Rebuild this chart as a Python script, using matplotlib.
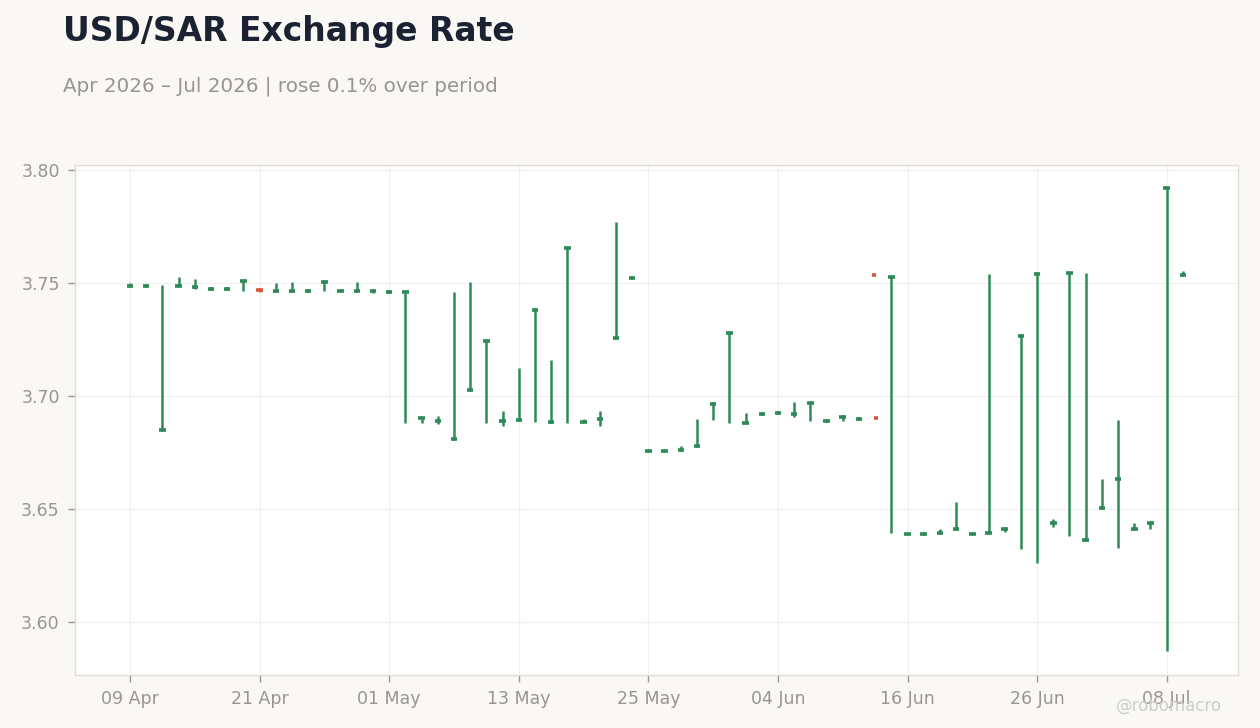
import matplotlib
matplotlib.use("Agg")
import numpy as np
from matplotlib import pyplot as plt


# ─────────────────────────────────────────────────────────────────
# DATA  (daily USD/SAR, business days)
# ─────────────────────────────────────────────────────────────────

DATES = [
    "09 Apr", "10 Apr", "13 Apr", "14 Apr", "15 Apr", "16 Apr", "17 Apr", "20 Apr",
    "21 Apr", "22 Apr", "23 Apr", "24 Apr", "27 Apr", "28 Apr", "29 Apr", "30 Apr",
    "01 May", "04 May", "05 May", "06 May", "07 May", "08 May", "11 May", "12 May",
    "13 May", "14 May", "15 May", "18 May", "19 May", "20 May", "21 May", "22 May",
    "25 May", "26 May", "27 May", "28 May", "29 May", "01 Jun", "02 Jun", "03 Jun",
    "04 Jun", "05 Jun", "08 Jun", "09 Jun", "10 Jun", "11 Jun", "12 Jun", "15 Jun",
    "16 Jun", "17 Jun", "18 Jun", "19 Jun", "22 Jun", "23 Jun", "24 Jun", "25 Jun",
    "26 Jun", "29 Jun", "30 Jun", "01 Jul", "02 Jul", "03 Jul", "06 Jul", "07 Jul",
    "08 Jul", "09 Jul",
]

OPEN = [
    3.7486, 3.7488, 3.6850, 3.7487, 3.7482, 3.7473, 3.7473, 3.7509,
    3.7470, 3.7465, 3.7465, 3.7465, 3.7504, 3.7465, 3.7465, 3.7465,
    3.7460, 3.7460, 3.6903, 3.6891, 3.6811, 3.7027, 3.7245, 3.6891,
    3.6894, 3.7382, 3.6885, 3.7655, 3.6885, 3.6900, 3.7258, 3.7522,
    3.6758, 3.6758, 3.6762, 3.6780, 3.6966, 3.7280, 3.6881, 3.6922,
    3.6925, 3.6920, 3.6970, 3.6891, 3.6908, 3.6900, 3.7537, 3.7528,
    3.6391, 3.6391, 3.6395, 3.6413, 3.6391, 3.6395, 3.6413, 3.7265,
    3.7540, 3.6436, 3.7544, 3.6364, 3.6506, 3.6634, 3.6413, 3.6439,
    3.7922, 3.7537,
]

CLOSE = [
    3.7487, 3.7488, 3.6850, 3.7487, 3.7482, 3.7473, 3.7473, 3.7509,
    3.7468, 3.7465, 3.7465, 3.7465, 3.7504, 3.7465, 3.7465, 3.7465,
    3.7460, 3.7460, 3.6903, 3.6891, 3.6811, 3.7027, 3.7245, 3.6891,
    3.6894, 3.7382, 3.6885, 3.7655, 3.6885, 3.6900, 3.7258, 3.7522,
    3.6758, 3.6758, 3.6762, 3.6780, 3.6966, 3.7280, 3.6881, 3.6922,
    3.6925, 3.6920, 3.6970, 3.6891, 3.6908, 3.6900, 3.6904, 3.7528,
    3.6391, 3.6391, 3.6395, 3.6413, 3.6391, 3.6395, 3.6413, 3.7265,
    3.7540, 3.6436, 3.7544, 3.6364, 3.6506, 3.6634, 3.6413, 3.6439,
    3.7922, 3.7537,
]

HIGH = [
    3.7499, 3.7488, 3.7490, 3.7527, 3.7518, 3.7473, 3.7473, 3.7509,
    3.7470, 3.7499, 3.7503, 3.7465, 3.7504, 3.7465, 3.7503, 3.7470,
    3.7460, 3.7460, 3.6903, 3.6912, 3.7460, 3.7504, 3.7245, 3.6934,
    3.7124, 3.7382, 3.7159, 3.7655, 3.6897, 3.6934, 3.7770, 3.7522,
    3.6758, 3.6758, 3.6777, 3.6898, 3.6966, 3.7280, 3.6925, 3.6922,
    3.6932, 3.6973, 3.6970, 3.6897, 3.6908, 3.6900, np.nan, 3.7528,
    3.6391, 3.6391, 3.6410, 3.6531, 3.6391, 3.7540, 3.6413, 3.7265,
    3.7540, 3.6454, 3.7544, 3.7543, 3.6631, 3.6894, 3.6437, 3.6439,
    3.7922, 3.7552,
]

LOW = [
    3.7485, 3.7488, 3.6850, 3.7487, 3.7475, 3.7473, 3.7473, 3.7466,
    3.7462, 3.7465, 3.7465, 3.7465, 3.7466, 3.7465, 3.7465, 3.7457,
    3.7460, 3.6882, 3.6882, 3.6876, 3.6811, 3.7027, 3.6882, 3.6867,
    3.6894, 3.6885, 3.6885, 3.6882, 3.6885, 3.6867, 3.7258, 3.7522,
    3.6758, 3.6758, 3.6762, 3.6780, 3.6894, 3.6881, 3.6881, 3.6922,
    3.6925, 3.6908, 3.6891, 3.6891, 3.6891, 3.6900, np.nan, 3.6392,
    3.6391, 3.6391, 3.6395, 3.6413, 3.6391, 3.6395, 3.6397, 3.6322,
    3.6260, 3.6419, 3.6378, 3.6364, 3.6506, 3.6326, 3.6413, 3.6410,
    3.5870, 3.7537,
]

TICK_EVERY = 8


# ─────────────────────────────────────────────────────────────────
# STYLE
# ─────────────────────────────────────────────────────────────────

BG       = "#f9f8f5"
UP       = "#2e8b57"
DOWN     = "#d4573b"
TITLE_C  = "#1b2333"
MUTED    = "#99948f"
SPINE_C  = "#e2ddd6"
GRID_C   = "#efefef"


# ─────────────────────────────────────────────────────────────────
# PLOT
# ─────────────────────────────────────────────────────────────────

x     = np.arange(len(DATES))
o     = np.array(OPEN)
c     = np.array(CLOSE)
h     = np.array(HIGH)
l     = np.array(LOW)
cols  = [UP if cc >= oo else DOWN for oo, cc in zip(o, c)]

fig = plt.figure(figsize=(12.6, 7.28), dpi=100, facecolor=BG)
ax  = fig.add_axes([0.0595, 0.0728, 0.923, 0.7006])
ax.set_facecolor("white")

# wicks
ax.vlines(x, l, h, colors=cols, linewidth=1.8, zorder=3)

# open tick (left) and close tick (right) - merge into a body when equal
ax.hlines(o, x - 0.20, x + 0.05, colors=cols, linewidth=2.6, zorder=4)
ax.hlines(c, x - 0.05, x + 0.20, colors=cols, linewidth=2.6, zorder=4)

ax.set_xlim(-3.4, 68.4)
ax.set_ylim(3.5765, 3.8022)

ax.set_yticks([3.60, 3.65, 3.70, 3.75, 3.80])
ax.set_yticklabels([f"{v:.2f}" for v in [3.60, 3.65, 3.70, 3.75, 3.80]])
ax.set_xticks(x[::TICK_EVERY])
ax.set_xticklabels(DATES[::TICK_EVERY])

ax.grid(True, color=GRID_C, linewidth=0.8, zorder=0)
ax.set_axisbelow(True)
for s in ax.spines.values():
    s.set_color(SPINE_C)
    s.set_linewidth(1.0)
ax.tick_params(colors=MUTED, labelcolor=MUTED, labelsize=12.5,
               length=5, width=1.0, pad=6)

fig.text(0.05, 0.944, "USD/SAR Exchange Rate", fontsize=23.8,
         fontweight="bold", color=TITLE_C, ha="left", va="baseline")
fig.text(0.05, 0.874, "Apr 2026 – Jul 2026 | rose 0.1% over period",
         fontsize=14.3, color=MUTED, ha="left", va="baseline")
fig.text(0.970, 0.024, "@robomacro", fontsize=12, color="#cccccc",
         ha="right", va="baseline")

plt.savefig("out.png", dpi=100, facecolor=BG)
